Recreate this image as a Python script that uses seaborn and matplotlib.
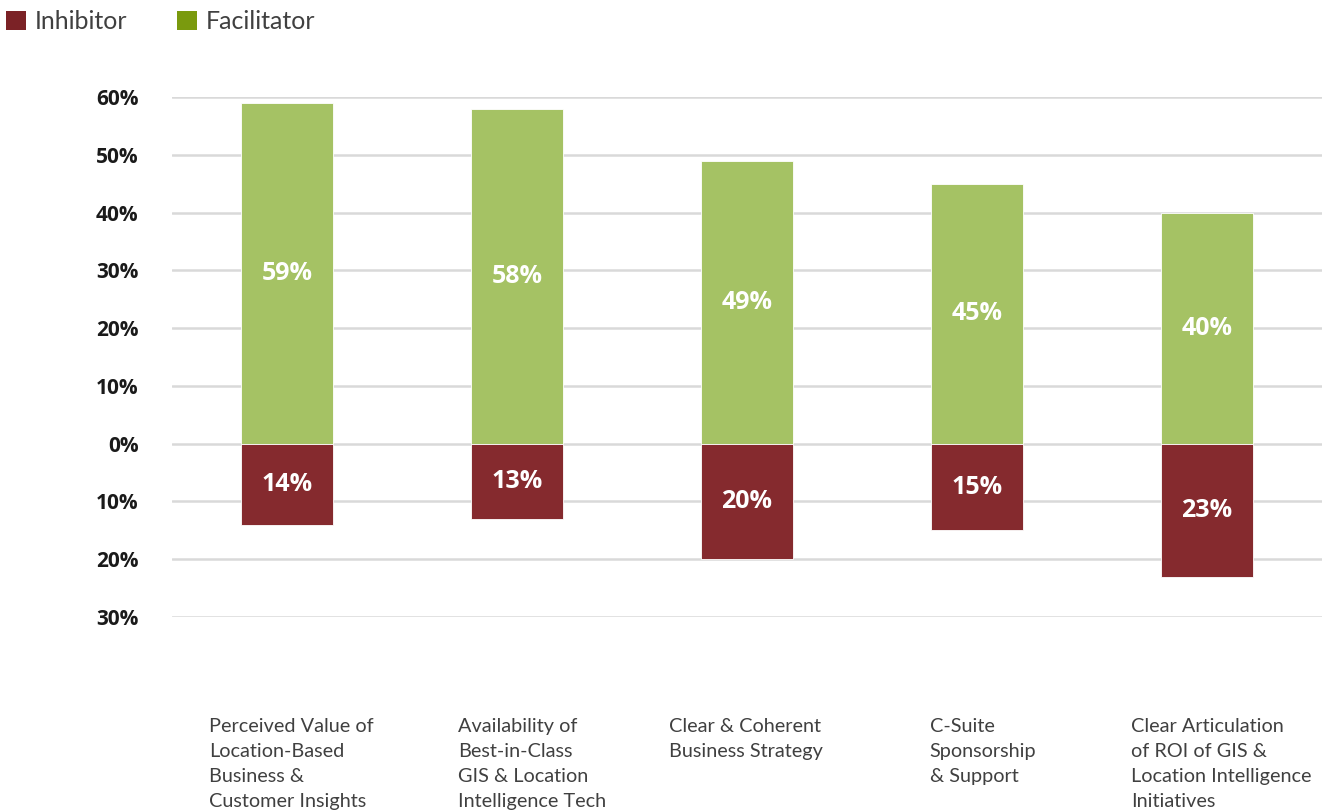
import matplotlib
matplotlib.use("Agg")
import matplotlib.pyplot as plt
import matplotlib.ticker as mticker
import seaborn as sns
import pandas as pd
from matplotlib.patches import Patch

categories = [
    "Perceived Value of\nLocation-Based\nBusiness &\nCustomer Insights",
    "Availability of\nBest-in-Class\nGIS & Location\nIntelligence Tech",
    "Clear & Coherent\nBusiness Strategy",
    "C-Suite\nSponsorship\n& Support",
    "Clear Articulation\nof ROI of GIS &\nLocation Intelligence\nInitiatives",
]
facilitator = [59, 58, 49, 45, 40]
inhibitor = [14, 13, 20, 15, 23]
label_offsets = [-0.34, -0.255, -0.34, -0.205, -0.33]
y_ticks = [60, 50, 40, 30, 20, 10, 0, -10, -20, -30]

GREEN_BAR = "#A5C264"
RED_BAR = "#852A2E"
GREEN_LEG = "#7A9A0E"
RED_LEG = "#7B2226"
TEXT = "#404040"

sns.set_theme(style="white")
plt.rcParams["font.family"] = ["Lato", "DejaVu Sans"]

rows = []
for c, f, i in zip(categories, facilitator, inhibitor):
    rows.append({"cat": c, "val": f, "kind": "Facilitator"})
    rows.append({"cat": c, "val": -i, "kind": "Inhibitor"})
df = pd.DataFrame(rows)

fig = plt.figure(figsize=(13.24, 8.11), dpi=100)
ax = fig.add_axes([172 / 1324, 1 - 617 / 811, 1150 / 1324, 520 / 811])

sns.barplot(data=df, x="cat", y="val", hue="kind", order=categories,
            hue_order=["Facilitator", "Inhibitor"],
            palette={"Facilitator": GREEN_BAR, "Inhibitor": RED_BAR},
            dodge=False, width=0.4, ax=ax, legend=False, saturation=1,
            edgecolor="white", linewidth=0.6, zorder=3)

ax.set_xlim(-0.5, 4.5)
ax.set_ylim(-30, 60)
ax.set_yticks(y_ticks)
ax.yaxis.set_major_formatter(mticker.FuncFormatter(lambda v, p: f"{abs(int(round(v)))}%"))
ax.tick_params(axis="y", length=0, pad=24, labelcolor="#1a1a1a")
for t in ax.get_yticklabels():
    t.set_fontweight("bold")
    t.set_fontfamily(["Open Sans", "DejaVu Sans"])
    t.set_fontsize(15)
ax.grid(axis="y", color="#D9D9D9", linewidth=1.8, zorder=0)
ax.set_axisbelow(True)
for s in ax.spines.values():
    s.set_visible(False)
ax.set_xticks([])
ax.set_xlabel("")
ax.set_ylabel("")

for i, (f, inh) in enumerate(zip(facilitator, inhibitor)):
    for val, yv in ((f, f / 2), (inh, -inh / 2)):
        ax.text(i, yv, f"{val}%", ha="center", va="center", color="white",
                fontsize=18, fontweight="bold", family=["Open Sans", "DejaVu Sans"],
                zorder=5)

for i, (c, off) in enumerate(zip(categories, label_offsets)):
    ax.text(i + off, -47.4, c, ha="left", va="top", color=TEXT, fontsize=14.3,
            linespacing=1.58, clip_on=False)

handles = [Patch(facecolor=RED_LEG, edgecolor="none", label="Inhibitor"),
           Patch(facecolor=GREEN_LEG, edgecolor="none", label="Facilitator")]
leg = fig.legend(handles=handles, loc="upper left", bbox_to_anchor=(-0.007, 1.006),
                 ncol=2, frameon=False, fontsize=18, handlelength=0.8, handleheight=0.8,
                 handletextpad=0.35, columnspacing=2.0, borderaxespad=0.2)
for t in leg.get_texts():
    t.set_color(TEXT)

fig.savefig("out.png", dpi=100)
